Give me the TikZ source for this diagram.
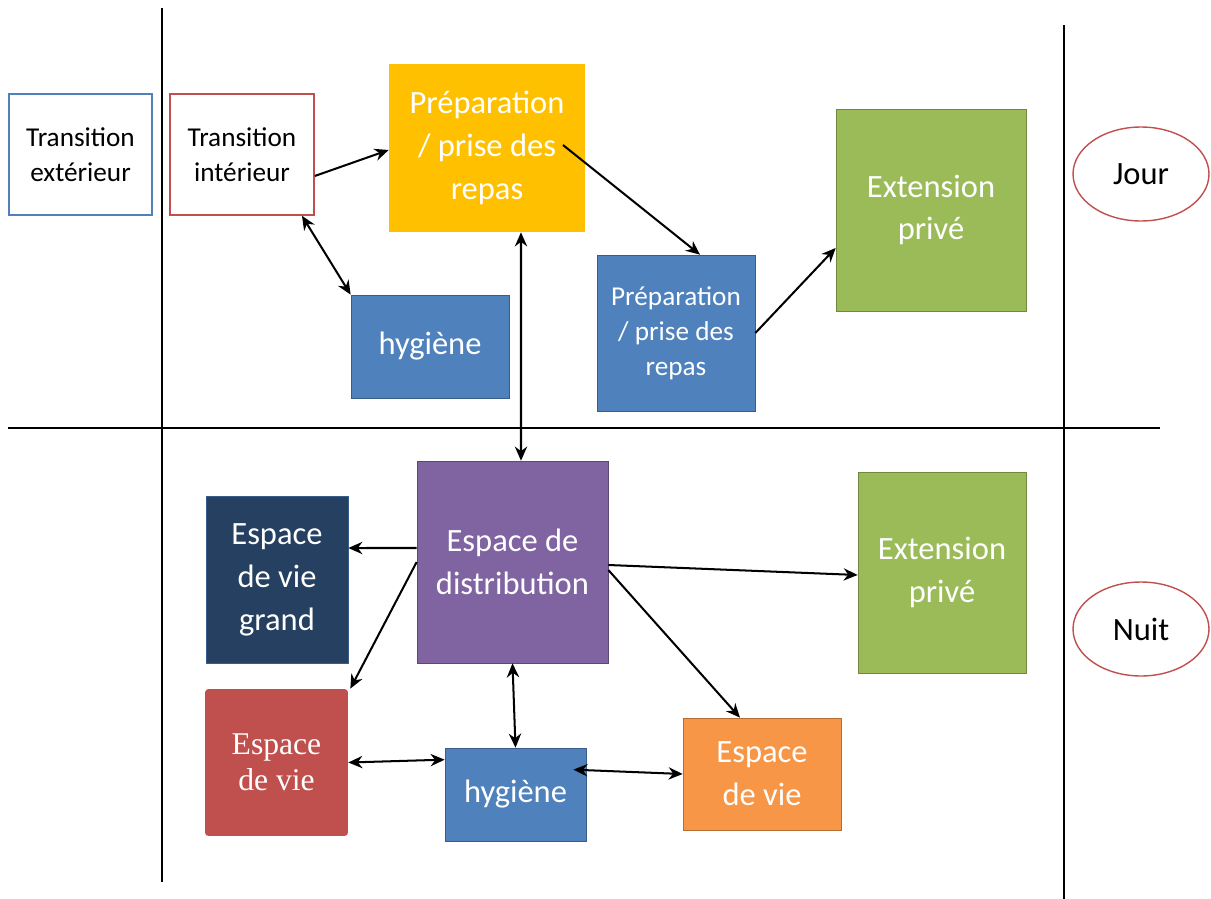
\documentclass[tikz,border=0pt]{standalone}
\usepackage{fontspec}
\setmainfont{Carlito}
\newfontfamily\timesfont{Liberation Serif}
\usepackage{xcolor}
\usepackage{tikz}
\usetikzlibrary{arrows.meta,shapes.geometric}
\definecolor{bleu}{HTML}{4F81BD}
\definecolor{bleuf}{HTML}{385D8A}
\definecolor{rouge}{HTML}{C0504D}
\definecolor{jaune}{HTML}{FFC000}
\definecolor{vert}{HTML}{9BBB59}
\definecolor{vertf}{HTML}{71893F}
\definecolor{violet}{HTML}{8064A2}
\definecolor{violetf}{HTML}{5C4776}
\definecolor{marine}{HTML}{254061}
\definecolor{orange}{HTML}{F79646}
\definecolor{orangef}{HTML}{B66D31}

\begin{document}
\begin{tikzpicture}[x=0.02cm,y=-0.02cm,>={Stealth[length=8pt,width=7pt]},
boite/.style={rectangle,inner sep=0pt,align=center,text=white,font=\fontsize{18.5}{24.4}\selectfont},
petit/.style={font=\fontsize{15.5}{20}\selectfont},
fl/.style={line width=1.15pt},
ovale/.style={ellipse,draw=rouge,line width=0.8pt,inner sep=0pt,minimum width=2.72cm,minimum height=1.88cm,font=\fontsize{18.5}{24}\selectfont}]
\useasboundingbox (0,0) rectangle (1211,899);
\draw[line width=1.3pt](162,8)--(162,882);
\draw[line width=1.3pt](1064,25)--(1064,899);
\draw[line width=1.3pt](8,428)--(1160,428);
\node[boite,petit,text=black,draw=bleu,line width=0.9pt,minimum width=2.86cm,minimum height=2.42cm](trext)at(80.5,154.5){Transition\\extérieur};
\node[boite,petit,text=black,draw=rouge,line width=0.9pt,minimum width=2.88cm,minimum height=2.42cm](trint)at(242,154.5){Transition\\intérieur};
\node[boite,fill=jaune,minimum width=3.92cm,minimum height=3.36cm](prepj)at(487,148){Préparation\\/ prise des\\repas};
\node[boite,fill=bleu,draw=bleuf,minimum width=3.16cm,minimum height=2.06cm](hygj)at(430,346.5){hygiène};
\node[boite,petit,fill=bleu,draw=bleuf,minimum width=3.16cm,minimum height=3.12cm](prepb)at(676,333){Préparation\\/ prise des\\repas};
\node[boite,fill=vert,draw=vertf,minimum width=3.8cm,minimum height=4.04cm](extj)at(931,210){Extension\\privé};
\node[ovale](jour)at(1141,174){Jour};
\node[ovale](nuit)at(1141,629){Nuit};
\node[boite,fill=violet,draw=violetf,minimum width=3.82cm,minimum height=4.04cm](dist)at(512.5,562){Espace de\\distribution};
\node[boite,fill=marine,draw=bleuf,minimum width=2.84cm,minimum height=3.34cm](evg)at(277,579.5){Espace\\de vie\\grand};
\node[boite,fill=rouge,rounded corners=2pt,minimum width=2.86cm,minimum height=2.94cm,font=\timesfont\fontsize{18}{20.5}\selectfont](evr)at(276.5,762.5){Espace\\de vie};
\node[boite,fill=bleu,draw=bleuf,minimum width=2.82cm,minimum height=1.86cm](hygn)at(515.5,794.5){hygiène};
\node[boite,fill=orange,draw=orangef,minimum width=3.16cm,minimum height=2.24cm](evo)at(762,774){Espace\\de vie};
\node[boite,fill=vert,draw=vertf,minimum width=3.36cm,minimum height=4.02cm](extn)at(942,572.5){Extension\\privé};
\draw[fl,->]([yshift=-0.43cm]trint.east)--([yshift=-0.04cm]prepj.west);
\draw[fl,->]([xshift=1.52cm,yshift=0.06cm]prepj.center)--([xshift=0.48cm]prepb.north);
\draw[fl,->](prepb.east)--([yshift=-0.76cm]extj.west);
\draw[fl,<->]([xshift=1.2cm]trint.south)--(hygj.north west);
\draw[fl,<->]([xshift=0.68cm]prepj.south)--([xshift=0.17cm]dist.north);
\draw[fl,->]([yshift=0.28cm]dist.west)--([yshift=0.63cm]evg.east);
\draw[fl,->](dist.west)--([xshift=0.04cm]evr.north east);
\draw[fl,->]([yshift=-0.06cm]dist.east)--([yshift=-0.05cm]extn.west);
\draw[fl,->]([yshift=-0.16cm]dist.east)--([xshift=-0.44cm]evo.north);
\draw[fl,<->](dist.south)--(hygn.north);
\draw[fl,<->](evr.east)--([yshift=-0.24cm]hygn.north west);
\draw[fl,<->]([xshift=-0.26cm,yshift=-0.44cm]hygn.north east)--(evo.west);
\end{tikzpicture}
\end{document}
